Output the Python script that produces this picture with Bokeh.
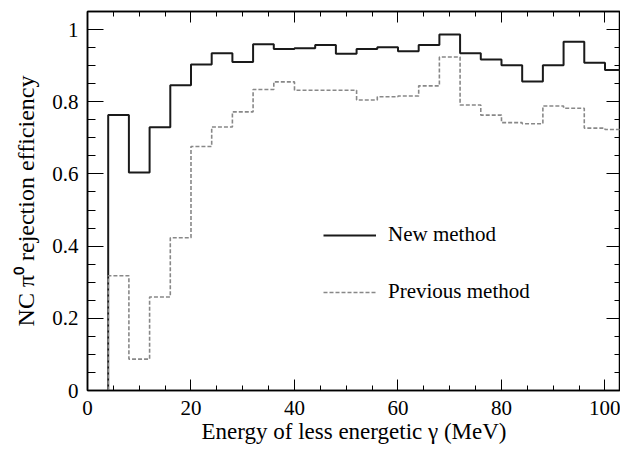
from bokeh.plotting import figure
from bokeh.models import (LinearAxis, SingleIntervalTicker, CustomJSTickFormatter,
                          Range1d, Legend, LegendItem)
from bokeh.embed import file_html
from bokeh.resources import INLINE

# ---- data ----
bin_edges = [4, 8, 12, 16, 20, 24, 28, 32, 36, 40, 44, 48, 52, 56, 60, 64,
             68, 72, 76, 80, 84, 88, 92, 96, 100, 104]
new_method = [0.763, 0.604, 0.729, 0.846, 0.903, 0.934, 0.910, 0.959, 0.946,
              0.948, 0.957, 0.933, 0.946, 0.951, 0.940, 0.957, 0.986, 0.934,
              0.917, 0.901, 0.856, 0.901, 0.966, 0.908, 0.888]
previous_method = [0.318, 0.087, 0.259, 0.423, 0.676, 0.730, 0.772, 0.834,
                   0.855, 0.832, 0.832, 0.832, 0.805, 0.814, 0.816, 0.844,
                   0.924, 0.791, 0.763, 0.742, 0.739, 0.788, 0.782, 0.727,
                   0.723]
series_labels = ["New method", "Previous method"]
x_title = "Energy of less energetic \u03b3 (MeV)"
y_title = "NC \u03c0\u2070 rejection efficiency"


def step_vertices(edges, vals):
    xs = [edges[0]]
    ys = [0.0]
    for i, v in enumerate(vals):
        xs += [edges[i], edges[i + 1]]
        ys += [v, v]
    return xs, ys


FONT = "Liberation Serif"

p = figure(width=620, height=446, output_backend="svg", toolbar_location=None,
           x_range=Range1d(0, 103), y_range=Range1d(0, 1.05),
           min_border_left=87, min_border_top=11, min_border_bottom=55,
           min_border_right=0)
p.xgrid.visible = False
p.ygrid.visible = False
p.outline_line_color = "black"
p.outline_line_width = 1.5
p.background_fill_color = "white"
p.border_fill_color = "white"

xtick = SingleIntervalTicker(interval=20, num_minor_ticks=4)
ytick = SingleIntervalTicker(interval=0.2, num_minor_ticks=4)
yfmt = CustomJSTickFormatter(code="return tick.toFixed(1).replace(/\\.0$/, '');")
empty = CustomJSTickFormatter(code="return '';")

xa = p.xaxis[0]
xa.ticker = xtick
xa.axis_label = x_title
ya = p.yaxis[0]
ya.ticker = ytick
ya.formatter = yfmt
ya.axis_label = y_title

for ax in (xa, ya):
    ax.axis_line_color = "black"
    ax.axis_line_width = 1.5
    ax.major_tick_line_color = "black"
    ax.minor_tick_line_color = "black"
    ax.major_tick_out = 0
    ax.minor_tick_out = 0
    ax.major_label_text_font = FONT
    ax.major_label_text_font_size = "21px"
    ax.major_label_text_color = "black"
    ax.axis_label_text_font = FONT
    ax.axis_label_text_font_style = "normal"
    ax.axis_label_text_color = "black"

xa.axis_label_text_font_size = "23px"
ya.axis_label_text_font_size = "24px"
xa.major_tick_in = 11
xa.minor_tick_in = 5
xa.major_label_standoff = 10
xa.axis_label_standoff = 1
ya.major_tick_in = 16
ya.minor_tick_in = 8
ya.major_label_standoff = 9
ya.axis_label_standoff = 10

top = LinearAxis(ticker=xtick, formatter=empty, major_tick_in=11, major_tick_out=0,
                 minor_tick_in=5, minor_tick_out=0, major_label_standoff=0,
                 axis_line_color="black", axis_line_width=1.5,
                 major_label_text_font_size="1px")
right = LinearAxis(ticker=ytick, formatter=empty, major_tick_in=14, major_tick_out=0,
                   minor_tick_in=6, minor_tick_out=0, major_label_standoff=0,
                   axis_line_color="black", axis_line_width=1.5,
                   major_label_text_font_size="1px")
p.add_layout(top, "above")
p.add_layout(right, "right")

nx, ny = step_vertices(bin_edges, new_method)
px_, py_ = step_vertices(bin_edges, previous_method)
r_new = p.line(nx, ny, line_color="#1a1a1a", line_width=2)
r_prev = p.line(px_, py_, line_color="#888888", line_width=1.6, line_dash="4 2")

legend = Legend(items=[LegendItem(label=series_labels[0], renderers=[r_new]),
                       LegendItem(label=series_labels[1], renderers=[r_prev])],
                location=(236, 86), padding=0, margin=0, spacing=32,
                glyph_width=53, glyph_height=22, label_height=22,
                label_standoff=12, border_line_color=None,
                background_fill_alpha=0,
                label_text_font=FONT, label_text_font_size="21px",
                label_text_color="black")
p.add_layout(legend, "center")

open("out.html", "w").write(file_html(p, INLINE))
